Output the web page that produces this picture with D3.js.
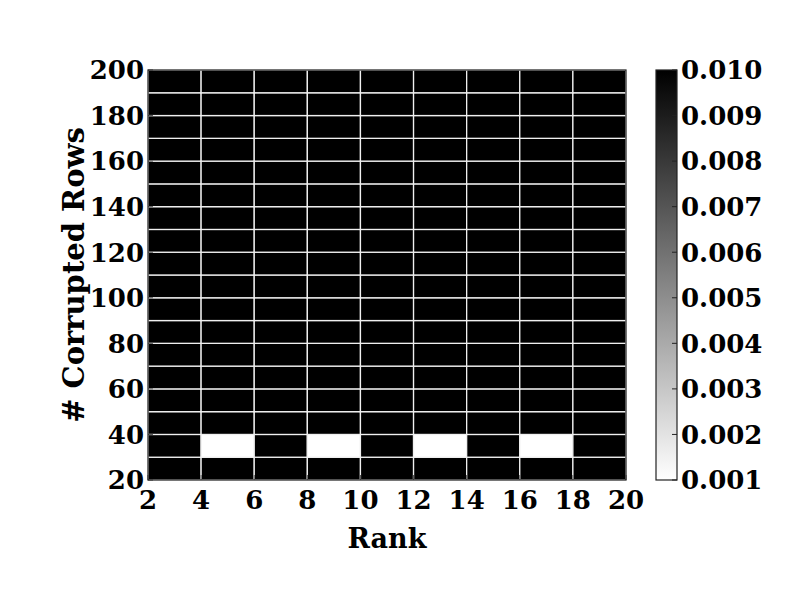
<!DOCTYPE html>
<html>
<head>
<meta charset="utf-8">
<script src="https://cdn.jsdelivr.net/npm/d3@7"></script>
<style>
  body { margin: 0; background: #fff; }
  svg text { font-family: "DejaVu Serif", serif; font-weight: bold; fill: #000; }
</style>
</head>
<body>
<div id="chart"></div>
<script>
'use strict';

// Column starts (rank) and row starts (# corrupted rows)
const ranks = [2, 4, 6, 8, 10, 12, 14, 16, 18];
const rowStarts = [20, 30, 40, 50, 60, 70, 80, 90, 100, 110, 120, 130, 140, 150, 160, 170, 180, 190];
const binWidth = 2;
const binHeight = 10;

// Cell values, one row per rowStarts entry (bottom to top)
const values = [
  [0.010, 0.010, 0.010, 0.010, 0.010, 0.010, 0.010, 0.010, 0.010],
  [0.010, 0.001, 0.010, 0.001, 0.010, 0.001, 0.010, 0.001, 0.010],
  [0.010, 0.010, 0.010, 0.010, 0.010, 0.010, 0.010, 0.010, 0.010],
  [0.010, 0.010, 0.010, 0.010, 0.010, 0.010, 0.010, 0.010, 0.010],
  [0.010, 0.010, 0.010, 0.010, 0.010, 0.010, 0.010, 0.010, 0.010],
  [0.010, 0.010, 0.010, 0.010, 0.010, 0.010, 0.010, 0.010, 0.010],
  [0.010, 0.010, 0.010, 0.010, 0.010, 0.010, 0.010, 0.010, 0.010],
  [0.010, 0.010, 0.010, 0.010, 0.010, 0.010, 0.010, 0.010, 0.010],
  [0.010, 0.010, 0.010, 0.010, 0.010, 0.010, 0.010, 0.010, 0.010],
  [0.010, 0.010, 0.010, 0.010, 0.010, 0.010, 0.010, 0.010, 0.010],
  [0.010, 0.010, 0.010, 0.010, 0.010, 0.010, 0.010, 0.010, 0.010],
  [0.010, 0.010, 0.010, 0.010, 0.010, 0.010, 0.010, 0.010, 0.010],
  [0.010, 0.010, 0.010, 0.010, 0.010, 0.010, 0.010, 0.010, 0.010],
  [0.010, 0.010, 0.010, 0.010, 0.010, 0.010, 0.010, 0.010, 0.010],
  [0.010, 0.010, 0.010, 0.010, 0.010, 0.010, 0.010, 0.010, 0.010],
  [0.010, 0.010, 0.010, 0.010, 0.010, 0.010, 0.010, 0.010, 0.010],
  [0.010, 0.010, 0.010, 0.010, 0.010, 0.010, 0.010, 0.010, 0.010],
  [0.010, 0.010, 0.010, 0.010, 0.010, 0.010, 0.010, 0.010, 0.010]
];

const xTicks = [2, 4, 6, 8, 10, 12, 14, 16, 18, 20];
const yTicks = [20, 40, 60, 80, 100, 120, 140, 160, 180, 200];
const cbTicks = [0.001, 0.002, 0.003, 0.004, 0.005, 0.006, 0.007, 0.008, 0.009, 0.010];

const W = 812, H = 612;
const plot = { left: 148, right: 626, top: 70, bottom: 480 };
const cbar = { left: 656, right: 677 };
const fontSize = 26;

const svg = d3.select('#chart').append('svg')
  .attr('width', W)
  .attr('height', H);

// Scales
const x = d3.scaleLinear().domain([2, 20]).range([plot.left, plot.right]);
const y = d3.scaleLinear().domain([20, 200]).range([plot.bottom, plot.top]);
const color = d3.scaleLinear().domain([0.001, 0.010]).range(['#ffffff', '#000000']);
const cbY = d3.scaleLinear().domain([0.001, 0.010]).range([plot.bottom, plot.top]);

// Cells
const cells = [];
rowStarts.forEach((r, i) => {
  ranks.forEach((c, j) => {
    cells.push({ rank: c, row: r, value: values[i][j] });
  });
});

svg.append('g').selectAll('rect')
  .data(cells)
  .enter().append('rect')
    .attr('x', (d) => x(d.rank))
    .attr('y', (d) => y(d.row + binHeight))
    .attr('width', (d) => x(d.rank + binWidth) - x(d.rank))
    .attr('height', (d) => y(d.row) - y(d.row + binHeight))
    .attr('fill', (d) => color(d.value))
    .attr('stroke', '#f0f0f0')
    .attr('stroke-width', 1.3);

// Inner ticks
const ticks = svg.append('g').attr('stroke', '#555').attr('stroke-width', 1);
ticks.selectAll('.yt')
  .data(yTicks)
  .enter().append('line')
    .attr('x1', plot.left).attr('x2', plot.left + 5)
    .attr('y1', (d) => y(d)).attr('y2', (d) => y(d));
ticks.selectAll('.xt')
  .data(xTicks)
  .enter().append('line')
    .attr('x1', (d) => x(d)).attr('x2', (d) => x(d))
    .attr('y1', plot.bottom).attr('y2', plot.bottom - 5);

// Plot frame
svg.append('rect')
  .attr('x', plot.left).attr('y', plot.top)
  .attr('width', plot.right - plot.left)
  .attr('height', plot.bottom - plot.top)
  .attr('fill', 'none')
  .attr('stroke', '#222')
  .attr('stroke-width', 1.2);

// Axis labels
svg.append('g').selectAll('text')
  .data(yTicks)
  .enter().append('text')
    .attr('x', plot.left - 4)
    .attr('y', (d) => y(d))
    .attr('dy', '0.36em')
    .attr('text-anchor', 'end')
    .attr('font-size', fontSize)
    .text((d) => d);

svg.append('g').selectAll('text')
  .data(xTicks)
  .enter().append('text')
    .attr('x', (d) => x(d))
    .attr('y', plot.bottom + 29)
    .attr('text-anchor', 'middle')
    .attr('font-size', fontSize)
    .text((d) => d);

svg.append('text')
  .attr('x', (plot.left + plot.right) / 2)
  .attr('y', 548)
  .attr('text-anchor', 'middle')
  .attr('font-size', 27)
  .text('Rank');

svg.append('text')
  .attr('transform', 'translate(84,' + ((plot.top + plot.bottom) / 2) + ') rotate(-90)')
  .attr('text-anchor', 'middle')
  .attr('font-size', 29)
  .text('# Corrupted Rows');

// Colorbar
const defs = svg.append('defs');
const grad = defs.append('linearGradient')
  .attr('id', 'cbgrad')
  .attr('x1', 0).attr('y1', 1).attr('x2', 0).attr('y2', 0);
grad.selectAll('stop')
  .data([0.001, 0.010])
  .enter().append('stop')
    .attr('offset', (d, i) => i)
    .attr('stop-color', (d) => color(d));

svg.append('rect')
  .attr('x', cbar.left).attr('y', plot.top)
  .attr('width', cbar.right - cbar.left)
  .attr('height', plot.bottom - plot.top)
  .attr('fill', 'url(#cbgrad)')
  .attr('stroke', '#222')
  .attr('stroke-width', 1.2);

svg.append('g').attr('stroke', '#222').selectAll('line')
  .data(cbTicks)
  .enter().append('line')
    .attr('x1', cbar.right).attr('x2', cbar.right - 5)
    .attr('y1', (d) => cbY(d)).attr('y2', (d) => cbY(d));

svg.append('g').selectAll('text')
  .data(cbTicks)
  .enter().append('text')
    .attr('x', cbar.right + 4)
    .attr('y', (d) => cbY(d))
    .attr('dy', '0.36em')
    .attr('font-size', fontSize)
    .text((d) => d3.format('.3f')(d));
</script>
</body>
</html>
